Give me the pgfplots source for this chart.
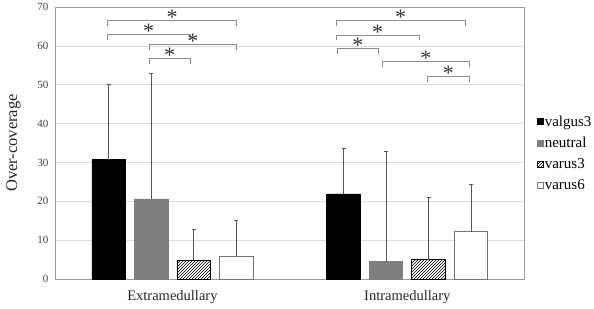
\documentclass[border=0pt]{standalone}
\usepackage{pgfplots}
\pgfplotsset{compat=1.18}
\usepackage{fontspec}
\setmainfont{Liberation Serif}
\usetikzlibrary{patterns}
\definecolor{gridc}{HTML}{DDDDDD}
\definecolor{axc}{HTML}{9A9A9A}
\definecolor{neut}{HTML}{7F7F7F}
\definecolor{errc}{HTML}{555555}
\definecolor{brc}{HTML}{8C8C8C}
\newcommand{\brk}[3]{%
  \draw[brc, line width=0.8pt] (axis cs:#1,#3-1.4) -- (axis cs:#1,#3) -- (axis cs:#2,#3) -- (axis cs:#2,#3-1.4);
  \node[font=\fontsize{22}{22}\selectfont, inner sep=0pt, text=black!80] at (axis cs:{(#1+#2)/2},#3+0.8) {*};}
\begin{document}
\begin{tikzpicture}
\begin{axis}[
  scale only axis, width=469.7pt, height=272pt,
  ybar=9pt, bar width=33.5pt,
  xmin=-0.5, xmax=1.5, ymin=0, ymax=70,
  xtick={0,1}, xticklabels={Extramedullary,Intramedullary},
  ytick={0,10,...,70},
  major tick length=0pt,
  axis line style={axc, line width=0.8pt},
  ymajorgrids, grid style={gridc, line width=0.6pt},
  tick label style={font=\fontsize{11}{12}\selectfont, text=black!75},
  yticklabel style={xshift=-3pt},
  xticklabel style={font=\fontsize{14.5}{15}\selectfont, text=black!85, yshift=-8pt},
  /pgf/number format/assume math mode=true,
  ylabel={Over-coverage}, ylabel shift=10pt,
  ylabel style={font=\fontsize{16.5}{18}\selectfont, text=black!85},
  error bars/y dir=plus, error bars/y explicit,
  error bars/error bar style={errc, line width=0.8pt},
  error bars/error mark=-,
  error bars/error mark options={errc, mark size=2pt, line width=0.8pt, rotate=90},
  legend style={at={(1.026,0.605)}, anchor=north west, draw=none, fill=none,
    font=\fontsize{15}{16}\selectfont, row sep=7.2pt, inner sep=0pt,
    nodes={inner sep=1.2pt, xshift=2pt}},
  legend cell align=left,
  legend image code/.code={\draw[#1, line width=0.5pt] (0pt,-2.5pt) rectangle (6pt,3.5pt);},
  clip=false,
]
\addplot[draw=black, fill=black, line width=0.6pt] coordinates {(0,30.7) +- (0,19.5) (1,21.9) +- (0,11.7)};
\addplot[draw=neut, fill=neut, line width=0.6pt] coordinates {(0,20.6) +- (0,32.4) (1,4.5) +- (0,28.3)};
\addplot[draw=black, pattern=north east lines, line width=0.6pt] coordinates {(0,4.8) +- (0,8.0) (1,5.0) +- (0,16.0)};
\addplot[draw=black!55, fill=white, line width=0.6pt] coordinates {(0,5.8) +- (0,9.4) (1,12.2) +- (0,12.1)};
\legend{valgus3,neutral,varus3,varus6}
\brk{-0.277}{0.274}{66.6}
\brk{-0.277}{0.075}{63.0}
\brk{-0.099}{0.274}{60.4}
\brk{-0.099}{0.075}{56.7}
\brk{0.697}{1.246}{66.6}
\brk{0.697}{1.051}{62.8}
\brk{0.702}{0.877}{59.4}
\brk{0.894}{1.264}{55.9}
\brk{1.087}{1.264}{52.1}
\coordinate (ll) at (rel axis cs:0,0);
\coordinate (ur) at (rel axis cs:1,1);
\end{axis}
\pgfresetboundingbox
\path ([shift={(-55pt,-30pt)}]ll) rectangle ([shift={(69.3pt,7pt)}]ur);
\end{tikzpicture}
\end{document}
